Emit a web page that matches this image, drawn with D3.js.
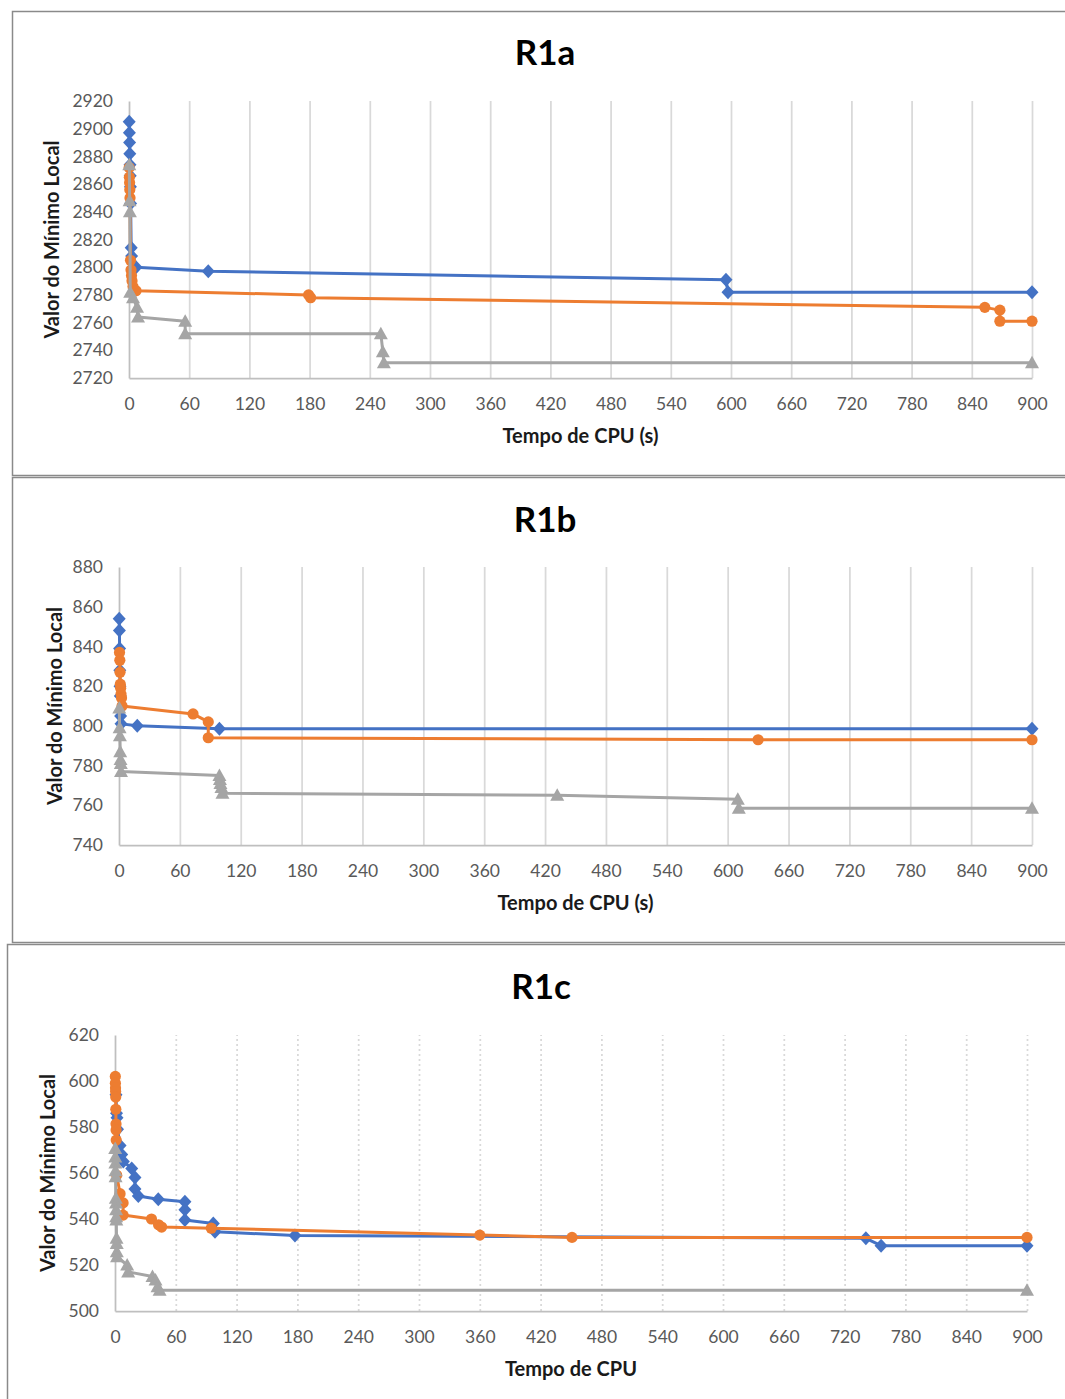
<!DOCTYPE html>
<html>
<head>
<meta charset="utf-8">
<script src="https://cdn.jsdelivr.net/npm/d3@7"></script>
<style>
  html, body { margin: 0; padding: 0; background: #fff; }
  svg { display: block; }
  text { font-family: Lato, "Open Sans", sans-serif; }
</style>
</head>
<body>
<svg id="chart" width="1065" height="1399"></svg>
<script>
// ---- Data: CPU time (s) and local-minimum value for each run ----
// R1a
const r1aBlueTime    = [0.2, 0.4, 0.6, 0.8, 1.0, 1.2, 1.4, 1.6, 2.2, 2.6, 7, 79, 595, 597, 900];
const r1aBlueValue   = [2905, 2897, 2890, 2882, 2874, 2866, 2858, 2846, 2814, 2808, 2800, 2797, 2791, 2782, 2782];
const r1aOrangeTime  = [0.2, 0.4, 0.6, 0.8, 1.0, 1.5, 2, 2.5, 3, 4, 7, 179, 181, 853, 868, 868, 900];
const r1aOrangeValue = [2872, 2865, 2861, 2856, 2850, 2805, 2798, 2794, 2790, 2786, 2783, 2780, 2778, 2771, 2769, 2761, 2761];
const r1aGrayTime    = [0.3, 0.6, 0.9, 1.2, 4, 8, 9, 56, 56, 251, 253, 254, 900];
const r1aGrayValue   = [2874, 2848, 2840, 2782, 2778, 2771, 2764, 2761, 2752, 2752, 2739, 2731, 2731];

// R1b
const r1bBlueTime    = [0.2, 0.4, 0.6, 0.8, 1.0, 1.3, 1.6, 2, 18, 99, 900];
const r1bBlueValue   = [854, 848, 839, 828, 820, 815, 805, 801, 800, 798.5, 798.5];
const r1bOrangeTime  = [0.5, 0.8, 1.0, 1.3, 1.6, 2, 2.5, 3, 73, 88, 88, 630, 900];
const r1bOrangeValue = [837, 833, 827, 821, 819, 816, 814, 810, 806, 802, 794, 793, 793];
const r1bGrayTime    = [0.3, 0.6, 0.9, 1.2, 1.5, 1.8, 2, 99, 99.5, 100, 101, 102, 432, 610, 611, 900];
const r1bGrayValue   = [809, 799, 795, 787, 783, 781, 777, 775, 773, 771, 769, 766, 765, 763, 758.5, 758.5];

// R1c
const r1cBlueTime    = [1, 1.5, 2, 2.5, 5, 6.6, 8.2, 16.5, 19.7, 19.7, 23, 42.7, 69, 69, 69, 97, 98.7, 177.6, 741, 756, 900];
const r1cBlueValue   = [594, 586, 584, 579, 572, 568, 565, 562, 558, 553, 550, 548.6, 547.5, 544, 539.6, 538, 534.5, 532.8, 531.6, 528.4, 528.4];
const r1cOrangeTime  = [0.3, 0.4, 0.5, 0.6, 0.7, 0.8, 1.0, 1.1, 1.2, 1.7, 5, 8, 8, 36, 43, 46, 95, 360, 451, 900];
const r1cOrangeValue = [602, 599, 597, 595.4, 593, 587.7, 581.3, 578.7, 574.3, 559, 551, 547, 541.7, 540, 537.5, 536.5, 536, 533, 532, 532];
const r1cGrayTime    = [0.2, 0.3, 0.4, 0.5, 0.6, 0.8, 1.0, 1.1, 1.2, 1.3, 1.5, 1.7, 1.8, 2, 12, 13, 37, 40, 42, 44, 900];
const r1cGrayValue   = [570.7, 567, 564.3, 561, 558.4, 549, 547, 544, 541, 539.6, 531.6, 529.4, 525.8, 523.6, 520, 517, 515, 513.5, 510.5, 509, 509];

// Axis ticks
const xTicks    = d3.range(0, 901, 60);
const r1aYTicks = d3.range(2720, 2921, 20);
const r1bYTicks = d3.range(740, 881, 20);
const r1cYTicks = d3.range(500, 621, 20);

// Series styling
const COLORS = { blue: "#4472C4", orange: "#ED7D31", gray: "#A5A5A5" };
const SHAPES = {
  diamond: "M0,-7L6.5,0L0,7L-6.5,0Z",
  circle: d3.symbol().type(d3.symbolCircle).size(Math.PI * 5.6 * 5.6)(),
  triangle: "M0,-7L7,5.5L-7,5.5Z"
};

const zip = (t, v) => t.map((d, i) => ({ t: d, v: v[i] }));

const panels = [
  {
    title: "R1a", xTitle: "Tempo de CPU (s)",
    frame: { x: 12, y: 11, w: 1070, h: 464 },
    plot: { left: 129, right: 1032, top: 101, bottom: 378 },
    yDomain: [2720, 2920], yTicks: r1aYTicks,
    titleX: 545, titleY: 53, xLabelY: 404, xTitleY: 436, yTitleX: 52,
    grid: "solid",
    series: [
      { data: zip(r1aBlueTime, r1aBlueValue), color: COLORS.blue, shape: "diamond" },
      { data: zip(r1aOrangeTime, r1aOrangeValue), color: COLORS.orange, shape: "circle" },
      { data: zip(r1aGrayTime, r1aGrayValue), color: COLORS.gray, shape: "triangle" }
    ]
  },
  {
    title: "R1b", xTitle: "Tempo de CPU (s)",
    frame: { x: 12, y: 477, w: 1070, h: 465 },
    plot: { left: 119, right: 1032, top: 567, bottom: 845 },
    yDomain: [740, 880], yTicks: r1bYTicks,
    titleX: 545, titleY: 520, xLabelY: 871, xTitleY: 903, yTitleX: 55,
    grid: "solid",
    series: [
      { data: zip(r1bBlueTime, r1bBlueValue), color: COLORS.blue, shape: "diamond" },
      { data: zip(r1bOrangeTime, r1bOrangeValue), color: COLORS.orange, shape: "circle" },
      { data: zip(r1bGrayTime, r1bGrayValue), color: COLORS.gray, shape: "triangle" }
    ]
  },
  {
    title: "R1c", xTitle: "Tempo de CPU",
    frame: { x: 7, y: 944, w: 1080, h: 470 },
    plot: { left: 115, right: 1027, top: 1035, bottom: 1311 },
    yDomain: [500, 620], yTicks: r1cYTicks,
    titleX: 541, titleY: 987, xLabelY: 1337, xTitleY: 1369, yTitleX: 48,
    grid: "dotted",
    series: [
      { data: zip(r1cBlueTime, r1cBlueValue), color: COLORS.blue, shape: "diamond" },
      { data: zip(r1cOrangeTime, r1cOrangeValue), color: COLORS.orange, shape: "circle" },
      { data: zip(r1cGrayTime, r1cGrayValue), color: COLORS.gray, shape: "triangle" }
    ]
  }
];

const svg = d3.select("#chart");

panels.forEach(p => {
  const g = svg.append("g");

  // panel frame
  g.append("rect")
    .attr("x", p.frame.x + 0.5).attr("y", p.frame.y + 0.5)
    .attr("width", p.frame.w).attr("height", p.frame.h)
    .attr("fill", "#fff").attr("stroke", "#8a8a8a").attr("stroke-width", 1.5);

  const x = d3.scaleLinear().domain([0, 900]).range([p.plot.left, p.plot.right]);
  const y = d3.scaleLinear().domain(p.yDomain).range([p.plot.bottom, p.plot.top]);

  // vertical gridlines
  const grid = g.append("g")
    .attr("transform", `translate(0,${p.plot.bottom})`)
    .call(d3.axisBottom(x).tickValues(xTicks.slice(1)).tickSize(-(p.plot.bottom - p.plot.top)).tickFormat(""));
  grid.select(".domain").remove();
  grid.selectAll("line")
    .attr("stroke", "#d9d9d9")
    .attr("stroke-width", 1.75)
    .attr("stroke-dasharray", p.grid === "dotted" ? "2,3" : null);

  // x axis labels + baseline
  const xa = g.append("g")
    .attr("transform", `translate(0,${p.plot.bottom})`)
    .call(d3.axisBottom(x).tickValues(xTicks).tickSize(0).tickPadding(0).tickFormat(d3.format("d")));
  xa.select(".domain").attr("stroke", "#bfbfbf").attr("stroke-width", 1.75);
  xa.selectAll("text")
    .attr("y", p.xLabelY - p.plot.bottom)
    .attr("dy", "0.35em")
    .attr("fill", "#595959").attr("font-size", 17.5)
    .style("font-family", "Lato, sans-serif");

  // y axis labels + left line
  const ya = g.append("g")
    .attr("transform", `translate(${p.plot.left},0)`)
    .call(d3.axisLeft(y).tickValues(p.yTicks).tickSize(0).tickPadding(16).tickFormat(d3.format("d")));
  ya.select(".domain").attr("stroke", "#bfbfbf").attr("stroke-width", 1.75);
  ya.selectAll("text")
    .attr("fill", "#595959").attr("font-size", 17.5)
    .style("font-family", "Lato, sans-serif");

  // chart title
  g.append("text")
    .attr("x", p.titleX).attr("y", p.titleY)
    .attr("dy", "0.35em")
    .attr("text-anchor", "middle")
    .attr("font-size", 35).attr("font-weight", "bold").attr("fill", "#000")
    .text(p.title);

  // axis titles
  g.append("text")
    .attr("x", (p.plot.left + p.plot.right) / 2).attr("y", p.xTitleY)
    .attr("dy", "0.35em")
    .attr("text-anchor", "middle")
    .attr("font-size", 20).attr("font-weight", "bold").attr("fill", "#1a1a1a")
    .text(p.xTitle);

  g.append("text")
    .attr("transform", `translate(${p.yTitleX},${(p.plot.top + p.plot.bottom) / 2}) rotate(-90)`)
    .attr("dy", "0.35em")
    .attr("text-anchor", "middle")
    .attr("font-size", 20).attr("font-weight", "bold").attr("fill", "#1a1a1a")
    .text("Valor do Mínimo Local");

  // series lines and markers
  const line = d3.line().x(d => x(d.t)).y(d => y(d.v));
  p.series.forEach(s => {
    const sg = g.append("g");
    sg.append("path")
      .datum(s.data)
      .attr("d", line)
      .attr("fill", "none")
      .attr("stroke", s.color)
      .attr("stroke-width", 3)
      .attr("stroke-linejoin", "round");
    sg.selectAll("path.mk")
      .data(s.data)
      .join("path")
      .attr("class", "mk")
      .attr("d", SHAPES[s.shape])
      .attr("transform", d => `translate(${x(d.t)},${y(d.v)})`)
      .attr("fill", s.color);
  });
});
</script>
</body>
</html>
